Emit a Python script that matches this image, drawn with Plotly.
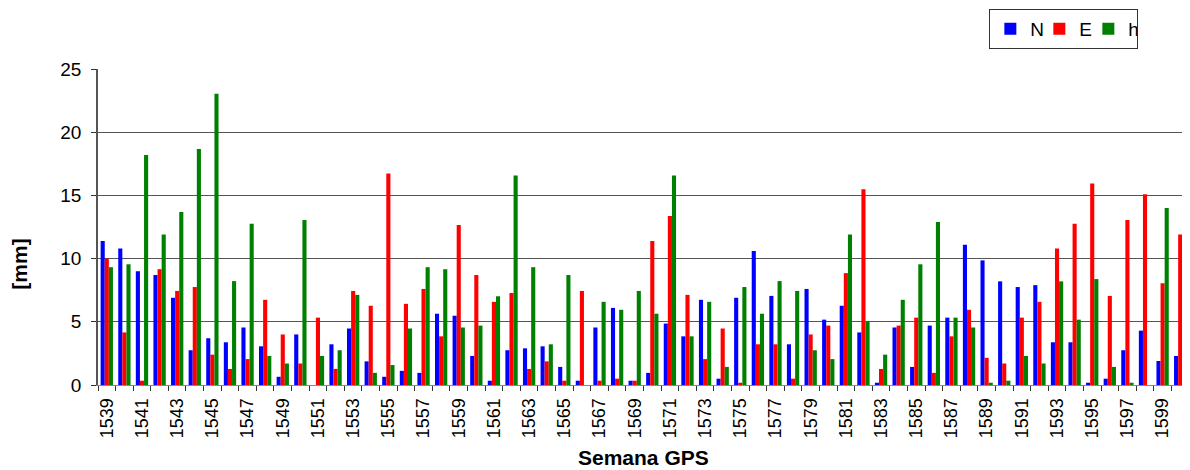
import plotly.graph_objects as go

weeks = [str(w) for w in range(1539, 1601)]

N = [11.4, 10.8, 9.0, 8.7, 6.9, 2.75, 3.7, 3.38, 4.55, 3.06,
     0.65, 4.0, 0.0, 3.22, 4.47, 1.87, 0.65, 1.12, 0.96, 5.64,
     5.48, 2.3, 0.34, 2.75, 2.9, 3.06, 1.43, 0.34, 4.55, 6.1,
     0.34, 0.96, 4.86, 3.85, 6.74, 0.5, 6.9, 10.6, 7.05, 3.22,
     7.6, 5.17, 6.27, 4.16, 0.18, 4.55, 1.43, 4.7, 5.33, 11.1,
     9.86, 8.2, 7.75, 7.9, 3.38, 3.38, 0.18, 0.5, 2.75, 4.3,
     1.9, 2.3]

E = [10.0, 4.16, 0.34, 9.16, 7.44, 7.75, 2.4, 1.27, 2.05, 6.74,
     4.0, 1.7, 5.33, 1.27, 7.44, 6.27, 16.73, 6.42, 7.6, 3.85,
     12.66, 8.7, 6.58, 7.28, 1.27, 1.87, 0.34, 7.44, 0.34, 0.5,
     0.34, 11.4, 13.37, 7.13, 2.05, 4.47, 0.18, 3.22, 3.22, 0.5,
     4.0, 4.7, 8.85, 15.48, 1.27, 4.7, 5.33, 0.96, 3.85, 5.95,
     2.15, 1.7, 5.33, 6.58, 10.8, 12.75, 15.95, 7.05, 13.06, 15.1,
     8.05, 11.9]

H = [9.32, 9.55, 18.2, 11.9, 13.68, 18.67, 23.05, 8.22, 12.75, 2.3,
     1.7, 13.06, 2.3, 2.75, 7.13, 0.96, 1.58, 4.47, 9.32, 9.16,
     4.55, 4.7, 7.02, 16.57, 9.32, 3.22, 8.7, 0.0, 6.58, 5.95,
     7.44, 5.64, 16.57, 3.85, 6.58, 1.43, 7.75, 5.64, 8.22, 7.44,
     2.75, 2.05, 11.9, 5.0, 2.4, 6.74, 9.55, 12.9, 5.33, 4.55,
     0.18, 0.34, 2.3, 1.7, 8.2, 5.17, 8.38, 1.43, 0.18, 0.0,
     14.0, 15.48]

tick_text = [w if i % 2 == 0 else "" for i, w in enumerate(weeks)]
y_ticks = [0, 5, 10, 15, 20, 25]

FONT = "Arial, Liberation Sans, sans-serif"

fig = go.Figure()
fig.add_trace(go.Bar(name="N", x=weeks, y=N, marker_color="#0000FF", marker_line_width=0))
fig.add_trace(go.Bar(name="E", x=weeks, y=E, marker_color="#FF0000", marker_line_width=0))
fig.add_trace(go.Bar(name="h", x=weeks, y=H, marker_color="#008000", marker_line_width=0))

# page body has an 8px margin, so the figure is sized/offset accordingly
fig.update_layout(
    width=1182, height=462,
    margin=dict(l=90, r=1, t=57, b=85),
    paper_bgcolor="white", plot_bgcolor="white",
    barmode="group", bargap=0.3, bargroupgap=0,
    font=dict(family=FONT, color="black", size=18),
    legend=dict(
        orientation="h", x=0.817, xanchor="left", y=1.19, yanchor="top",
        bgcolor="white", bordercolor="#333333", borderwidth=1,
        font=dict(size=19, family=FONT), itemwidth=30,
        entrywidth=4, entrywidthmode="pixels",
    ),
    xaxis=dict(
        type="category", tickmode="array", tickvals=weeks, ticktext=tick_text,
        tickangle=-90, tickson="boundaries", ticks="outside", ticklen=5,
        tickcolor="#333333", showline=True, linecolor="#888888", linewidth=1,
        showgrid=False, tickfont=dict(size=18, family=FONT), automargin=False,
        ticklabelstandoff=5,
    ),
    yaxis=dict(
        range=[0, 25], tickvals=y_ticks, ticks="outside", ticklen=5,
        tickcolor="#333333", showline=True, linecolor="#555555", linewidth=1.5,
        showgrid=True, gridcolor="#555555", gridwidth=1, zeroline=False,
        tickfont=dict(size=19, family=FONT), ticklabelstandoff=6, automargin=False,
    ),
    annotations=[
        dict(text="<b>Semana GPS</b>", xref="paper", yref="paper", x=0.5, y=-0.228,
             xanchor="center", yanchor="middle", showarrow=False,
             font=dict(size=21, family=FONT)),
        dict(text="<b>[mm]</b>", xref="paper", yref="paper", x=-0.0715, y=0.384,
             xanchor="center", yanchor="middle", showarrow=False, textangle=-90,
             font=dict(size=21, family=FONT)),
    ],
)

fig.write_html("out.html")
